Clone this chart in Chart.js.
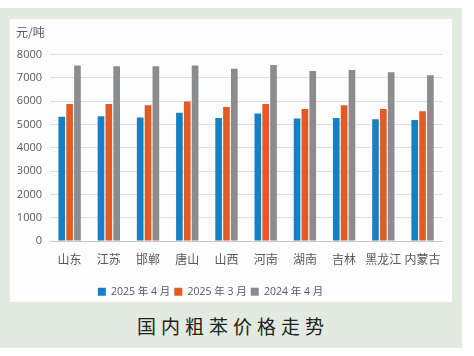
<!DOCTYPE html>
<html>
<head>
<meta charset="utf-8">
<script src="https://cdn.jsdelivr.net/npm/chart.js@4"></script>
<style>
  html, body { margin: 0; padding: 0; background: #ffffff; width: 474px; height: 356px; overflow: hidden; }
  #bg { position: absolute; left: 0; top: 8px; width: 462px; height: 340px; background: #e3ebe1; }
  #panel { position: absolute; left: 10px; top: 19px; width: 442px; height: 283px; background: #fdfdfd; }
  #title { position: absolute; left: 0; top: 313px; width: 466px; text-align: center;
           font-family: "Noto Sans CJK SC", sans-serif; font-size: 19px; letter-spacing: 5px; color: #222; line-height: 26px; }
</style>
</head>
<body>
<div id="bg"></div>
<div id="panel"><canvas id="c" width="442" height="283"></canvas></div>
<div id="title">国内粗苯价格走势</div>
<script>
const categories = ['山东', '江苏', '邯郸', '唐山', '山西', '河南', '湖南', '吉林', '黑龙江', '内蒙古'];
const seriesNames = ['2025 年 4 月', '2025 年 3 月', '2024 年 4 月'];
const apr2025 = [5330, 5350, 5300, 5500, 5270, 5470, 5250, 5270, 5220, 5190];
const mar2025 = [5880, 5880, 5820, 5980, 5750, 5880, 5660, 5820, 5660, 5560];
const apr2024 = [7520, 7490, 7490, 7520, 7390, 7550, 7290, 7330, 7240, 7110];
const yTicks = [0, 1000, 2000, 3000, 4000, 5000, 6000, 7000, 8000];
const unitLabel = '元/吨';

const colors = ['#1680c4', '#e35a25', '#8a8c8e'];

const shiftLegend = {
  id: 'shiftLegend',
  afterLayout(chart) {
    const lg = chart.legend;
    if (lg) { lg.left -= 19; lg.right -= 19; lg.top += 5; lg.bottom += 5; }
  }
};

new Chart(document.getElementById('c'), {
  type: 'bar',
  data: {
    labels: categories,
    datasets: [apr2025, mar2025, apr2024].map((d, i) => ({
      label: seriesNames[i],
      data: d,
      backgroundColor: colors[i],
      borderWidth: 0,
      categoryPercentage: 0.6,
      barPercentage: 0.85
    }))
  },
  options: {
    responsive: false,
    animation: false,
    layout: { padding: { left: 6, right: 9, top: 0, bottom: 0 } },
    plugins: {
      title: {
        display: true,
        text: unitLabel,
        align: 'start',
        color: '#595959',
        font: { family: '"Noto Sans CJK SC", sans-serif', size: 12, weight: 'normal' },
        padding: { top: 6, bottom: 15 }
      },
      legend: {
        position: 'bottom',
        labels: {
          boxWidth: 8, boxHeight: 8,
          color: '#595959',
          font: { family: '"Open Sans", "Noto Sans CJK SC", sans-serif', size: 10.5 },
          padding: 4
        }
      },
      tooltip: { enabled: false }
    },
    scales: {
      x: {
        grid: { display: false, drawTicks: false },
        border: { color: '#c8c8c8' },
        ticks: { color: '#595959', font: { family: '"Noto Sans CJK SC", serif', size: 12 }, padding: 11,
                 maxRotation: 0, minRotation: 0, autoSkip: false }
      },
      y: {
        min: 0, max: 8000,
        afterBuildTicks(scale) { scale.ticks = yTicks.map(v => ({ value: v })); },
        afterFit(scale) { scale.width = 34; },
        grid: { color: '#dedede', drawTicks: false },
        border: { display: false },
        ticks: { color: '#595959', font: { family: '"Open Sans", sans-serif', size: 11 }, padding: 8,
                 callback: v => String(v) }
      }
    }
  },
  plugins: [shiftLegend]
});
</script>
</body>
</html>
